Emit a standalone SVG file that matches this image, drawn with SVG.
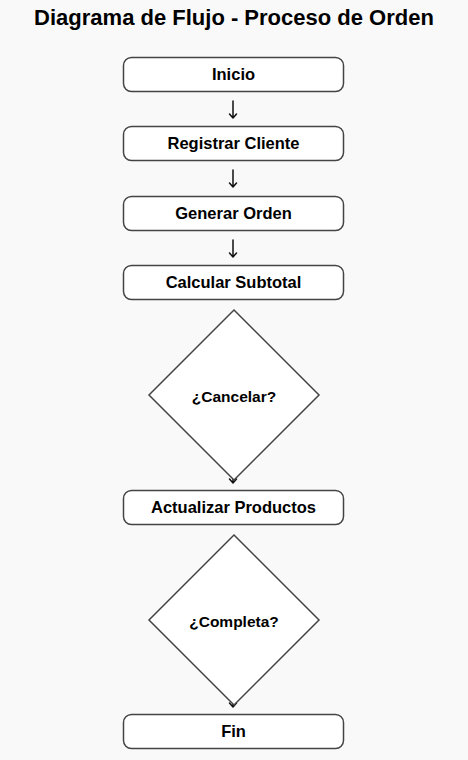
<svg xmlns="http://www.w3.org/2000/svg" width="468" height="760" viewBox="0 0 468 760">
<style>
.box{fill:#fff;stroke:#444;stroke-width:1.5}
.dia{fill:#fff;stroke:#444;stroke-width:1.5}
.lbl{font-family:"Liberation Sans",Arial,sans-serif;font-weight:bold;font-size:16.5px;fill:#000;text-anchor:middle;dominant-baseline:central}
.dl{font-family:"Liberation Sans",Arial,sans-serif;font-weight:bold;font-size:15.5px;fill:#000;text-anchor:middle;dominant-baseline:central}
.arr{fill:none;stroke:#111;stroke-width:1.5;stroke-linecap:round;stroke-linejoin:round}
</style>
<rect width="468" height="760" fill="#f9f9f9"/>
<text x="234" y="25" font-family="Liberation Sans,Arial,sans-serif" font-weight="bold" font-size="22" text-anchor="middle" fill="#000">Diagrama de Flujo - Proceso de Orden</text>
<g id="connectors">
<path class="arr" d="M233,101 V118 M229.5,114 L233,118 L236.5,114"/>
<path class="arr" d="M233,170 V187 M229.5,183 L233,187 L236.5,183"/>
<path class="arr" d="M233,240 V257 M229.5,253 L233,257 L236.5,253"/>
<path class="arr" d="M233,466 V483 M229.5,479 L233,483 L236.5,479"/>
<path class="arr" d="M233,690 V707 M229.5,703 L233,707 L236.5,703"/>
</g>
<g id="n1"><rect class="box" x="123.5" y="57.5" width="220" height="34" rx="8"/><text class="lbl" x="233.5" y="74">Inicio</text></g>
<g id="n2"><rect class="box" x="123.5" y="126.5" width="220" height="34" rx="8"/><text class="lbl" x="233.5" y="143">Registrar Cliente</text></g>
<g id="n3"><rect class="box" x="123.5" y="196.5" width="220" height="34" rx="8"/><text class="lbl" x="233.5" y="213">Generar Orden</text></g>
<g id="n4"><rect class="box" x="123.5" y="265.5" width="220" height="34" rx="8"/><text class="lbl" x="233.5" y="282">Calcular Subtotal</text></g>
<g id="d1"><polygon class="dia" points="234,310 319,395 234,480 149,395"/><text class="dl" x="234" y="396">¿Cancelar?</text></g>
<g id="n5"><rect class="box" x="123.5" y="490.5" width="220" height="34" rx="8"/><text class="lbl" x="233.5" y="507">Actualizar Productos</text></g>
<g id="d2"><polygon class="dia" points="234,535 319,620 234,705 149,620"/><text class="dl" x="234" y="621">¿Completa?</text></g>
<g id="n6"><rect class="box" x="123.5" y="714.5" width="220" height="34" rx="8"/><text class="lbl" x="233.5" y="731">Fin</text></g>
</svg>
